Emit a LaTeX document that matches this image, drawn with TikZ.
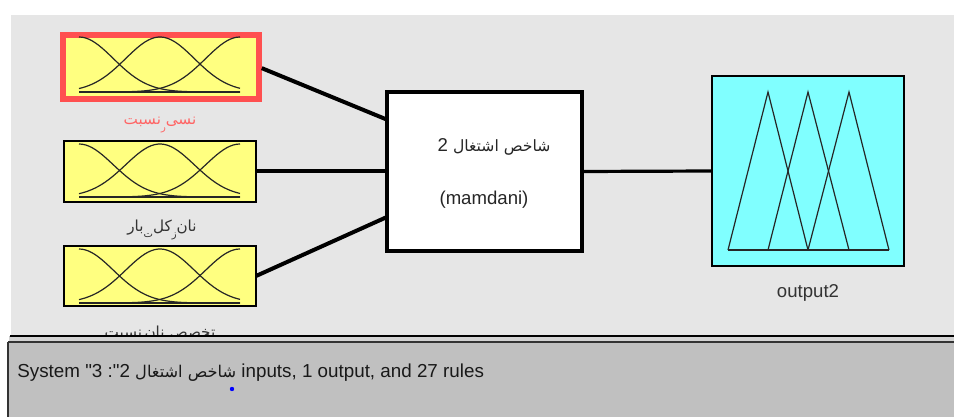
\documentclass[tikz,border=0pt]{standalone}
\usepackage{tikz}
\usepackage{xcolor}
\usepackage{fontspec}
\newfontfamily\uifont{Liberation Sans}
\newfontfamily\arabicfont[Script=Arabic]{DejaVu Sans}
\TeXXeTstate=1

\definecolor{panelgray}{HTML}{E6E6E6}
\definecolor{statusgray}{HTML}{C0C0C0}
\definecolor{bandgray}{HTML}{D2D2D2}
\definecolor{mfyellow}{HTML}{FFFF80}
\definecolor{outcyan}{HTML}{80FFFF}
\definecolor{selred}{HTML}{FF5050}
\definecolor{labelred}{HTML}{FF6464}
\definecolor{textgray}{HTML}{333333}

\begin{document}
\begin{tikzpicture}[x=0.5pt, y=-0.5pt,
  inbox/.style={draw=black, line width=0.75pt, fill=mfyellow, minimum width=96pt, minimum height=30.5pt, inner sep=0pt, outer sep=0pt},
  mf/.style={line width=0.6pt, black!85},
  wire/.style={line width=2pt},
  lbl/.style={font=\uifont\fontsize{9.3}{11}\selectfont, text=textgray, inner sep=0pt},
  arlbl/.style={lbl, anchor=base, font=\arabicfont\fontsize{7.6}{9}\selectfont}
]

\useasboundingbox (0,0) rectangle (954,417);
\fill[white] (0,0) rectangle (954,417);
\fill[panelgray] (11,15) rectangle (954,336);

% Input boxes
\node[inbox, draw=selred, line width=3pt, minimum width=98pt, minimum height=32pt] (in1) at (161,67) {};
\node[inbox] (in2) at (160,171.5) {};
\node[inbox, minimum height=30pt] (in3) at (160,276) {};

% Membership functions, first input
\draw[mf] plot[domain=79:240, samples=50] (\x, {92-55*exp(-0.5*((\x-79)/34.4)^2)});
\draw[mf] plot[domain=79:240, samples=50] (\x, {92-55*exp(-0.5*((\x-160)/34.4)^2)});
\draw[mf] plot[domain=79:240, samples=50] (\x, {92-55*exp(-0.5*((\x-240)/34.4)^2)});
\draw[mf, line width=1pt] (79,92) -- (240,92);

% Membership functions, second input
\draw[mf] plot[domain=79:240, samples=50] (\x, {197-53*exp(-0.5*((\x-79)/34.4)^2)});
\draw[mf] plot[domain=79:240, samples=50] (\x, {197-53*exp(-0.5*((\x-160)/34.4)^2)});
\draw[mf] plot[domain=79:240, samples=50] (\x, {197-53*exp(-0.5*((\x-240)/34.4)^2)});
\draw[mf, line width=1pt] (79,197) -- (240,197);

% Membership functions, third input
\draw[mf] plot[domain=79:240, samples=50] (\x, {303-54*exp(-0.5*((\x-79)/34.4)^2)});
\draw[mf] plot[domain=79:240, samples=50] (\x, {303-54*exp(-0.5*((\x-160)/34.4)^2)});
\draw[mf] plot[domain=79:240, samples=50] (\x, {303-54*exp(-0.5*((\x-240)/34.4)^2)});
\draw[mf, line width=1pt] (79,303) -- (240,303);

% Input labels
\node[arlbl, text=labelred] (in1label) at (160,125) {\beginR نسی\raisebox{-3pt}{\tiny ر}نسبت\endR};
\node[arlbl] (in2label) at (162,231) {\beginR نان\raisebox{-3pt}{\tiny ز}کل\raisebox{-3pt}{\tiny ت}بار\endR};
\node[arlbl] (in3label) at (160,337) {\beginR تخصص\raisebox{-3pt}{\tiny ر}نان\,نسبت\endR};

% Rule block
\node[draw, line width=2pt, fill=white, minimum width=97.5pt, minimum height=79.5pt, inner sep=0pt, outer sep=0pt] (rule) at (484.5,171.5) {};
\node[lbl, anchor=base, text=black!85] (rulename) at (494,152) {2 {\arabicfont\fontsize{7.8}{9}\selectfont\beginR شاخص اشتغال\endR}};
\node[lbl, text=black!85] (ruletype) at (484,200) {(mamdani)};

% Output block
\node[draw, line width=0.9pt, fill=outcyan, minimum width=96pt, minimum height=95pt, inner sep=0pt, outer sep=0pt] (out) at (808,171) {};
\draw[mf] (728,250) -- (768,92) -- (808,250);
\draw[mf] (768,250) -- (808,92) -- (849,250);
\draw[mf] (808,250) -- (849,92) -- (889,250);
\draw[mf] (728,250) -- (889,250);
\node[lbl] (outlabel) at (808,293) {output2};

% Wires
\draw[wire, shorten <=1.5pt] (in1.east) -- (rule.152.6);
\draw[wire] (in2.east) -- (rule.west);
\draw[wire] (in3.east) -- (rule.205);
\draw[wire, line width=1.6pt] (rule.east) -- (out.west);

% Status bar
\fill[statusgray] (9,336) rectangle (954,417);
\fill[bandgray] (9,337) rectangle (954,341);
\draw[line width=0.6pt] (10,336) -- (954,336);
\draw[line width=1pt, black!80] (8,342) -- (954,342);
\draw[line width=1pt, black!80] (8,342) -- (8,417);
\node[lbl, anchor=base west, font=\uifont\fontsize{9.4}{11}\selectfont, text=black!90] (status) at (17,377) {System "3 :"2 {\arabicfont\fontsize{8.1}{9}\selectfont\beginR شاخص اشتغال\endR} inputs, 1 output, and 27 rules};
\fill[blue] (232,389) circle (1.1pt);

\end{tikzpicture}
\end{document}
